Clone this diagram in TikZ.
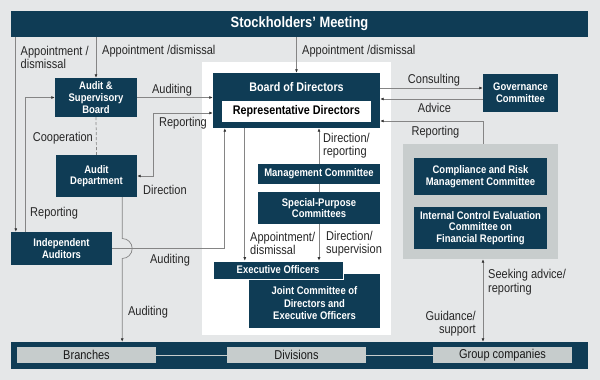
\documentclass[tikz,border=0pt]{standalone}
\usepackage{fontspec}
\setmainfont{Liberation Sans}[FakeStretch=0.86]
\usepackage{xcolor}
\usetikzlibrary{arrows.meta, positioning, calc}
\definecolor{navy}{HTML}{0F3C55}
\definecolor{bg}{HTML}{E5E7E8}
\definecolor{grp}{HTML}{C8CDCD}
\definecolor{unitgray}{HTML}{C6CCCC}
\definecolor{linegray}{HTML}{858585}
\newcommand\lblfont{\fontsize{12.8}{13.5}\selectfont}
\newcommand\bxfont{\bfseries\fontsize{11}{11.6}\selectfont}
\newcommand\bdfont{\bfseries\fontsize{12.5}{13}\selectfont}
\tikzset{
  box/.style={rectangle, fill=navy, text=white, font=\bxfont, align=center,
              inner sep=0pt},
  unit/.style={rectangle, fill=unitgray, text=black!90, font=\lblfont,
               inner sep=0pt, minimum width=139, minimum height=16},
  lbl/.style={font=\lblfont, text=black!85, inner sep=0pt, align=left},
  arrow/.style={-{Latex[length=3.5pt,width=3pt,color=black!80]}, line width=0.7pt,
                draw=linegray},
  dblarrow/.style={{Latex[length=3.5pt,width=3pt,color=black!80]}-{Latex[length=3.5pt,width=3pt,color=black!80]},
                   line width=0.7pt, draw=linegray},
  link/.style={line width=0.7pt, draw=linegray}
}

\begin{document}
\begin{tikzpicture}[x=1pt, y=-1pt]
    \fill[bg] (0,0) rectangle (600,380);
    \useasboundingbox (0,0) rectangle (600,380);
    \fill[white] (202,62) rectangle (391,335);

    % top and bottom bars
    \node[box, minimum width=577, minimum height=26,
          font=\bfseries\fontsize{15}{15}\selectfont] (stock) at (299.5,24) {Stockholders' Meeting};
    \node[box, minimum width=577, minimum height=27] (base) at (299.5,355.5) {};
    \node[unit] (branches)  at (86.5,355)  {Branches};
    \node[unit] (divisions) at (296.5,355) {Divisions};
    \node[unit] (groupco)   at (502.5,355) {Group companies};
    \draw[line width=1pt, unitgray] (branches) -- (divisions) -- (groupco);

    % audit side
    \node[box, minimum width=82, minimum height=39] (asb) at (96,97.5) {Audit \&\\Supervisory\\Board};
    \node[box, minimum width=81, minimum height=42] (adept) at (96.5,176) {Audit\\Department};
    \node[box, minimum width=101, minimum height=33] (ia) at (61.5,248.5) {Independent\\Auditors};

    % board column
    \node[box, minimum width=167, minimum height=55] (board) at (296.5,100.5) {};
    \node[font=\bdfont, text=white, inner sep=0pt] (boardtxt) at (296.5,87.5) {Board of Directors};
    \node[rectangle, fill=white, font=\bdfont, inner sep=0pt, minimum width=149,
          minimum height=21] (rep) at (296.5,111.5) {Representative Directors};
    \node[box, minimum width=122, minimum height=20] (mgmt) at (319,174) {Management Committee};
    \node[box, minimum width=122, minimum height=32] (spc) at (319,208) {Special-Purpose\\Committees};
    \node[box, minimum width=131, minimum height=49, font=\bfseries\fontsize{11}{12.5}\selectfont]
          (joint) at (314.5,303.5) {Joint Committee of\\Directors and\\Executive Officers};
    \fill[navy] ([yshift=5pt]joint.north west) rectangle (joint.north east);
    \node[box, minimum width=130, minimum height=18, draw=white, line width=0.6pt] (exec) at (278,270) {Executive Officers};

    % right side
    \node[box, minimum width=75, minimum height=38] (gov) at (520.5,93) {Governance\\Committee};
    \node[rectangle, fill=grp, minimum width=155, minimum height=115, inner sep=0pt] (grpbox) at (480.5,201.5) {};
    \node[box, minimum width=133, minimum height=37] (comp) at (480.5,176.5) {Compliance and Risk\\Management Committee};
    \node[box, minimum width=133, minimum height=42] (icefr) at (480.5,228) {Internal Control Evaluation\\Committee on\\Financial Reporting};

    % helper points
    \coordinate (iaL)  at ([xshift=5pt]ia.north west);
    \coordinate (iaR)  at ([xshift=15pt]ia.north west);
    \coordinate (bend) at (153,113);
    \coordinate (bdA)  at ([xshift=12pt]board.south west);
    \coordinate (bdE)  at ([xshift=32pt]board.south west);
    \coordinate (adS)  at ([xshift=-15pt]adept.south east);
    \coordinate (grpT) at ([xshift=2.5pt]grpbox.north);

    % connectors
    \draw[arrow] (stock.south -| iaL) -- (iaL);
    \draw[arrow] (stock.south -| asb.north) -- (asb.north);
    \draw[arrow] (stock.south -| board.north) -- (board.north);
    \draw[arrow] (iaR) |- (asb.west);
    \draw[arrow] (asb.east) -- (asb.east -| board.west);
    \draw[dblarrow] (adept.east) -| (bend) -- (bend -| board.west);
    \draw[link, dash pattern=on 3pt off 2pt] (asb.south) -- (adept.north);
    \draw[arrow] (ia.east) -| (bdA);
    \draw[arrow] (adS) -- ([yshift=10pt]adS |- ia.east)
        arc[start angle=90, end angle=-90, radius=10pt] -- (adS |- base.north);
    \draw[arrow] (bdE) -- (bdE |- exec.north);
    \draw[arrow] (mgmt.north) -- (mgmt.north |- board.south);
    \draw[link] (mgmt.south) -- (spc.north);
    \draw[arrow] (spc.south) -- (spc.south |- exec.north);
    \draw[arrow] ([yshift=12.5pt]board.east) -- ([yshift=12.5pt]board.east -| gov.west);
    \draw[arrow] ([yshift=1.5pt]board.east -| gov.west) -- ([yshift=1.5pt]board.east);
    \draw[arrow] (grpT) |- ([yshift=-20.5pt]board.east);
    \draw[dblarrow] (grpT |- grpbox.south) -- (grpT |- base.north);

    % labels
    \node[lbl, anchor=west] (lapp1) at (20.5,57.5) {Appointment /\\dismissal};
    \node[lbl, anchor=west] (lapp2) at (102,51) {Appointment /dismissal};
    \node[lbl, anchor=west] (lapp3) at (302,51) {Appointment /dismissal};
    \node[lbl] (laud1) at (172,90) {Auditing};
    \node[lbl] (lrep2) at (183,123) {Reporting};
    \node[lbl, anchor=west] (ldir1) at (143,190) {Direction};
    \node[lbl, anchor=east] (lcoop) at (93,138) {Cooperation};
    \node[lbl, anchor=west] (lrep1) at (30,213) {Reporting};
    \node[lbl] (laud2) at (170,260) {Auditing};
    \node[lbl] (laud3) at (148,312) {Auditing};
    \node[lbl, anchor=west] (ldir2) at (323,145.5) {Direction/\\reporting};
    \node[lbl, anchor=west] (lapp4) at (250,243.5) {Appointment/\\dismissal};
    \node[lbl, anchor=west] (ldir3) at (326,243.5) {Direction/\\supervision};
    \node[lbl] (lcons) at (434,80) {Consulting};
    \node[lbl] (ladv) at (434.5,108) {Advice};
    \node[lbl] (lrep3) at (435.5,132) {Reporting};
    \node[lbl, anchor=west] (lseek) at (488,282) {Seeking advice/\\reporting};
    \node[lbl, anchor=east, align=right] (lguid) at (476,323.5) {Guidance/\\support};
\end{tikzpicture}
\end{document}
